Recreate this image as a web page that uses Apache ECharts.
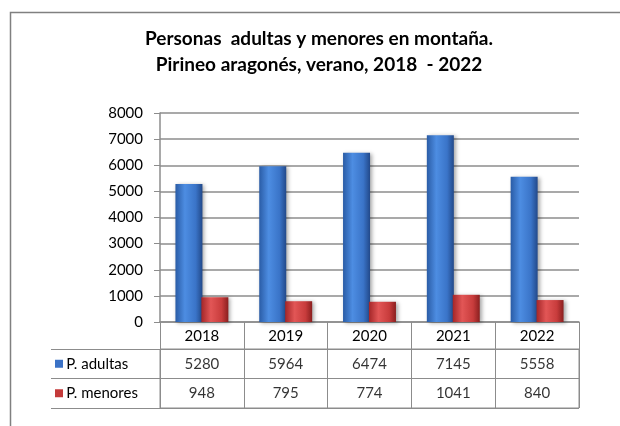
<!DOCTYPE html>
<html>
<head>
<meta charset="utf-8">
<script src="https://cdn.jsdelivr.net/npm/echarts@6/dist/echarts.min.js"></script>
<style>html,body{margin:0;padding:0;background:#fff}#c{width:620px;height:426px}</style>
</head>
<body>
<div id="c"></div>
<script>
var years = ['2018', '2019', '2020', '2021', '2022'];
var adultas = [5280, 5964, 6474, 7145, 5558];
var menores = [948, 795, 774, 1041, 840];
var rowNames = ['P. adultas', 'P. menores'];
var yTicks = { min: 0, max: 8000, interval: 1000 };
var titleText = 'Personas  adultas y menores en montaña.\nPirineo aragonés, verano, 2018  - 2022';

var FONT = 'Lato';
var GRAY = '#8c8c8c';

function grad(c0, c1, c2, c3) {
  return new echarts.graphic.LinearGradient(0, 0, 1, 0, [
    { offset: 0, color: c0 }, { offset: 0.35, color: c1 },
    { offset: 0.75, color: c2 }, { offset: 1, color: c3 }
  ]);
}

var cells = [];
years.forEach(function (y, i) {
  cells.push([i, 0, adultas[i]]);
  cells.push([i, 1, menores[i]]);
});

var chart = echarts.init(document.getElementById('c'), null, { renderer: 'canvas' });
chart.setOption({
  animation: false,
  backgroundColor: '#fff',
  graphic: [{
    type: 'rect', left: 8, top: 10, silent: true,
    shape: { width: 1000, height: 1000 },
    style: { fill: 'none', stroke: '#808080', lineWidth: 1.5 }
  }],
  title: {
    text: titleText, left: 314, top: 21, textAlign: 'center', padding: 5,
    textStyle: { fontFamily: FONT, fontWeight: 'bold', fontSize: 19, lineHeight: 26, color: '#000' }
  },
  grid: [
    { left: 160, width: 419, top: 113, height: 209 },
    { left: 160, width: 419, top: 349, height: 59, show: true, borderColor: GRAY, borderWidth: 1 }
  ],
  xAxis: [{
    type: 'category', gridIndex: 0, data: years,
    axisLine: { lineStyle: { color: GRAY, width: 1.5 } },
    axisTick: { show: true, length: 27, interval: 0, lineStyle: { color: GRAY } },
    axisLabel: { fontFamily: FONT, fontSize: 15, color: '#000', margin: 7, interval: 0 }
  }, {
    type: 'category', gridIndex: 1, data: years,
    axisLine: { show: false }, axisTick: { show: false }, axisLabel: { show: false },
    splitLine: { show: true, interval: 0, lineStyle: { color: GRAY } }
  }],
  yAxis: [{
    type: 'value', gridIndex: 0, min: yTicks.min, max: yTicks.max, interval: yTicks.interval,
    axisLine: { show: true, lineStyle: { color: GRAY, width: 1.5 } },
    axisTick: { show: true, length: 6, lineStyle: { color: GRAY } },
    axisLabel: { fontFamily: FONT, fontSize: 15, color: '#000', margin: 17,
      formatter: function (v) { return String(v); } },
    splitLine: { show: true, lineStyle: { color: GRAY, width: 1.5 } }
  }, {
    type: 'category', gridIndex: 1, data: rowNames, inverse: true,
    axisLine: { show: true, lineStyle: { color: GRAY } },
    axisTick: { show: true, length: 109, interval: 0, lineStyle: { color: GRAY } },
    splitLine: { show: true, interval: 0, lineStyle: { color: GRAY } },
    axisLabel: {
      align: 'left', margin: 105, interval: 0,
      formatter: function (v, i) { return (i === 0 ? '{b|}' : '{r|}') + ' {t|' + v + '}'; },
      rich: {
        b: { width: 8, height: 8, backgroundColor: '#3b72c6' },
        r: { width: 8, height: 8, backgroundColor: '#c43a3a' },
        t: { fontFamily: FONT, fontSize: 15, color: '#000' }
      }
    }
  }, {
    type: 'category', gridIndex: 1, data: rowNames, inverse: true, offset: 109,
    axisLine: { show: true, lineStyle: { color: GRAY } },
    axisTick: { show: false }, axisLabel: { show: false }, splitLine: { show: false }
  }],
  series: [{
    name: 'P. adultas', type: 'bar', xAxisIndex: 0, yAxisIndex: 0, data: adultas,
    barWidth: 27, barGap: '-4%',
    itemStyle: { color: grad('#2a5ca6', '#4d8de2', '#3a74c8', '#22498a'),
      shadowBlur: 4, shadowColor: 'rgba(0,0,0,0.35)', shadowOffsetX: 2, shadowOffsetY: 1 }
  }, {
    name: 'P. menores', type: 'bar', xAxisIndex: 0, yAxisIndex: 0, data: menores,
    barWidth: 27, barGap: '-4%',
    itemStyle: { color: grad('#a42628', '#e25656', '#c83c3c', '#8a1f1f'),
      shadowBlur: 4, shadowColor: 'rgba(0,0,0,0.35)', shadowOffsetX: 2, shadowOffsetY: 1 }
  }, {
    type: 'scatter', xAxisIndex: 1, yAxisIndex: 1, data: cells,
    symbolSize: 1, itemStyle: { color: 'rgba(0,0,0,0)' }, silent: true,
    label: { show: true, position: 'inside', formatter: function (p) { return String(p.data[2]); },
      fontFamily: FONT, fontSize: 15, color: '#000' }
  }]
});
</script>
</body>
</html>
